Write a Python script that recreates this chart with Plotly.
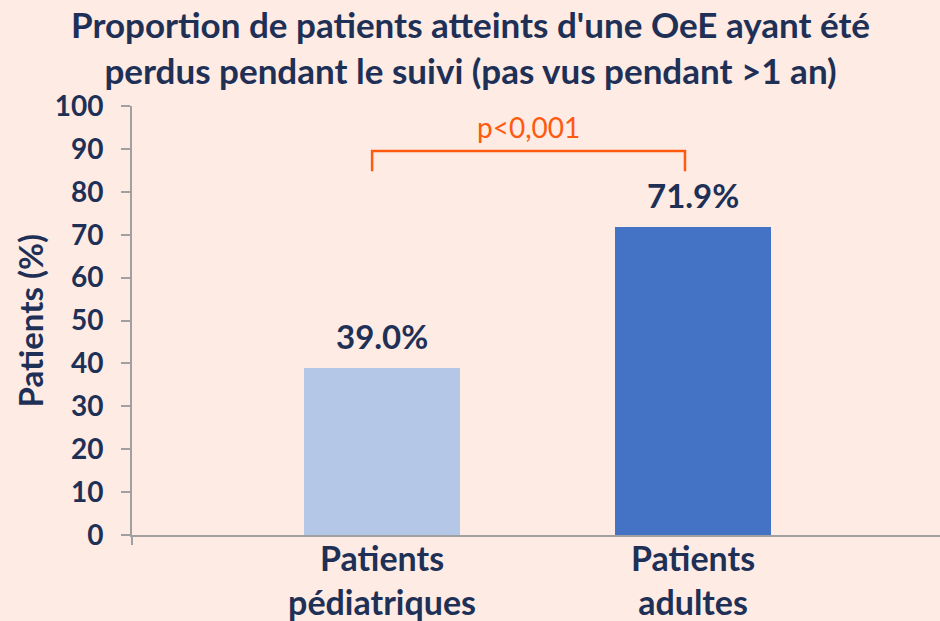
import plotly.graph_objects as go

categories = ["Patients<br>pédiatriques", "Patients<br>adultes"]
values = [39.0, 71.9]
value_labels = ["39.0%", "71.9%"]
bar_colors = ["#B4C7E7", "#4472C4"]
y_ticks = list(range(0, 101, 10))
p_text = "p<0,001"
title_text = "Proportion de patients atteints d'une OeE ayant été<br>perdus pendant le suivi (pas vus pendant >1 an)"
y_title = "Patients (%)"

BG = "#FDEBE4"
NAVY = "#1F3057"
ORANGE = "#FF5A0F"
AXIS = "#A0A0A0"
FONT = "Lato, Open Sans, sans-serif"

W, H = 940, 621
L, R, T, B = 132, 0, 106, 86
PW = W - L - R

x_idx = list(range(len(categories)))

fig = go.Figure()
fig.add_trace(go.Bar(
    x=x_idx, y=values, width=0.5,
    marker=dict(color=bar_colors, line=dict(width=0)),
    cliponaxis=False, hoverinfo="skip",
))

# value labels above bars
for xi, v, lab in zip(x_idx, values, value_labels):
    fig.add_annotation(x=xi, y=v, xref="x", yref="y", showarrow=False,
                       yanchor="middle", yshift=32, text=f"<b>{lab}</b>",
                       font=dict(family=FONT, size=33, color=NAVY, weight="bold"))

fig.update_layout(
    width=W, height=H,
    paper_bgcolor=BG, plot_bgcolor=BG,
    margin=dict(l=L, r=R, t=T, b=B, autoexpand=False),
    showlegend=False,
    font=dict(family=FONT, color=NAVY),
    xaxis=dict(
        range=[-0.804, 1.794], automargin=False,
        tickvals=x_idx, ticktext=[f"<b>{c}</b>" for c in categories],
        tickfont=dict(family=FONT, size=34, color=NAVY, weight="bold"),
        showline=True, linecolor=AXIS, linewidth=2,
        showgrid=False, zeroline=False, ticks="",
        ticklabelstandoff=-7,
    ),
    yaxis=dict(
        range=[0, 100], tickvals=y_ticks, automargin=False,
        ticktext=[f"<b>{t}</b>" for t in y_ticks],
        tickfont=dict(family=FONT, size=28, color=NAVY, weight="bold"),
        showline=True, linecolor=AXIS, linewidth=2,
        ticks="outside", ticklen=9, tickcolor=AXIS, tickwidth=2,
        showgrid=False, zeroline=False, ticklabelstandoff=12,
    ),
    bargap=0,
)

# title
fig.add_annotation(
    xref="paper", yref="paper", x=(470 - L) / PW, y=1.0, yshift=T - 1,
    xanchor="center", yanchor="top", showarrow=False,
    text=f"<b>{title_text}</b>",
    font=dict(family=FONT, size=35, color=NAVY, weight="bold"),
)

# y axis title
fig.add_annotation(
    xref="paper", yref="paper", x=(29 - L) / PW, y=0.5,
    xanchor="center", yanchor="middle", showarrow=False, textangle=-90,
    text=f"<b>{y_title}</b>",
    font=dict(family=FONT, size=33, color=NAVY, weight="bold"),
)

# small tick below the x axis at left edge
fig.add_shape(type="line", xref="paper", yref="paper", x0=0, x1=0, y0=0, y1=-10 / (H - T - B),
              line=dict(color=AXIS, width=2))

# significance bracket
bx0, bx1 = x_idx[0] - 0.032, x_idx[1] - 0.026
ytop, ybot = 89.5, 84.8
fig.add_shape(type="path", xref="x", yref="y",
              path=f"M {bx0},{ybot} L {bx0},{ytop} L {bx1},{ytop} L {bx1},{ybot}",
              line=dict(color=ORANGE, width=2.5))
fig.add_annotation(x=(bx0 + bx1) / 2, y=ytop, yshift=5, xref="x", yref="y",
                   text=p_text, showarrow=False, yanchor="bottom",
                   font=dict(family=FONT, size=28, color=ORANGE))

fig.write_html("out.html", config={"displayModeBar": False},
               post_script="document.body.style.margin='0';document.body.style.overflow='hidden';")
